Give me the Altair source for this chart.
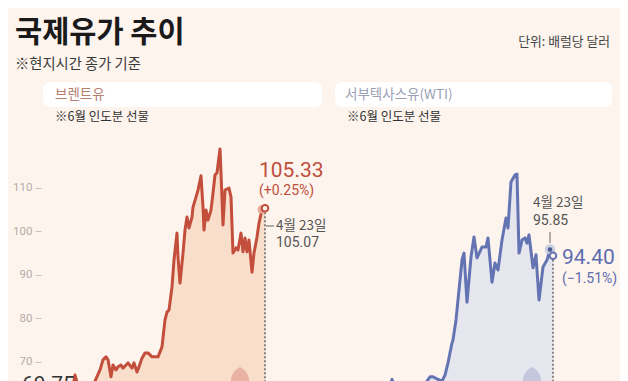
import altair as alt
import pandas as pd

# ---------------- data ----------------
brent_day = [0, 3, 7, 14, 23, 28, 31, 34, 36, 39,
             41, 44, 46, 49, 51, 54, 56, 60, 62, 65,
             67, 70, 73, 76, 80, 83, 86, 90, 93, 95,
             97, 100, 102, 105, 106, 108, 111, 113, 115, 117,
             120, 121, 124, 126, 129, 131, 132, 134, 136, 139,
             141, 143, 145, 148, 149, 151, 153, 157, 159, 161,
             164, 166, 169, 171, 173, 175, 177, 180, 182, 185,
             187, 190, 193]
brent_price = [63.0, 66.9, 63.5, 63.0, 65.5, 68.1, 70.4, 71.1, 70.4, 66.5,
               69.2, 68.1, 68.8, 69.2, 68.5, 69.2, 69.7, 68.5, 69.7, 67.6,
               68.8, 70.8, 72.0, 72.0, 71.1, 71.1, 71.1, 73.4, 79.6, 81.4,
               81.9, 87.2, 93.4, 99.6, 94.1, 88.1, 95.0, 100.3, 103.3, 100.8,
               103.3, 105.6, 107.9, 109.5, 112.8, 105.6, 100.3, 104.9, 102.6, 104.9,
               108.8, 113.0, 113.5, 119.0, 113.5, 101.5, 109.5, 110.0, 107.9, 95.0,
               96.2, 95.7, 99.6, 95.3, 98.5, 95.3, 98.0, 90.6, 95.0, 98.7,
               101.9, 105.07, 105.33]

wti_day = [0, 4, 9, 32, 39, 42, 45, 49, 54, 57,
           60, 64, 65, 68, 70, 74, 76, 79, 83, 86,
           89, 94, 98, 100, 104, 107, 110, 114, 118, 120,
           123, 127, 129, 131, 134, 137, 139, 141, 145, 148,
           151, 155, 159, 162, 165]
wti_price = [63.0, 65.9, 63.0, 63.0, 65.5, 66.5, 66.5, 66.0, 65.5, 66.9,
             69.7, 74.3, 75.0, 79.6, 84.2, 93.4, 95.0, 83.7, 94.1, 98.7,
             93.9, 96.4, 96.4, 98.5, 88.3, 92.7, 91.1, 98.0, 103.1, 100.8,
             111.4, 113.0, 113.2, 95.0, 98.0, 98.5, 97.3, 99.2, 91.6, 94.6,
             84.2, 91.8, 93.4, 95.85, 94.40]

y_ticks = [70, 80, 90, 100, 110]
pin_day = {"brent": 168, "wti": 144}

BG = "#FDF4EE"
KR = "Noto Sans CJK KR"
NUM = "Roboto"
Y_DOMAIN = [65.53, 151.47]
H = 373
PIN = "M0,-1C0.42,-0.78 0.62,-0.42 0.62,0.05C0.62,0.45 0.35,0.7 0,0.7C-0.35,0.7 -0.62,0.45 -0.62,0.05C-0.62,-0.42 -0.42,-0.78 0,-1Z"


def txt(text, x, y, size, color, font=KR, align="left", weight="normal", baseline="middle"):
    return alt.Chart(pd.DataFrame({"t": [text]})).mark_text(
        align=align, baseline=baseline, fontSize=size, color=color, font=font,
        fontWeight=weight,
    ).encode(x=alt.value(x), y=alt.value(y), text="t:N")


def box(x1, x2, y1, y2):
    return alt.Chart(pd.DataFrame({"a": [0]})).mark_rect(
        color="white", cornerRadius=7
    ).encode(x=alt.value(x1), x2=alt.value(x2), y=alt.value(y1), y2=alt.value(y2))


def panel(day, price, x_domain, line_color, area_color, halo_color, pin_color, pin_x, show_axis):
    df = pd.DataFrame({"day": day, "price": price})
    x = alt.X("day:Q", scale=alt.Scale(domain=x_domain, nice=False, zero=False), axis=None)
    if show_axis:
        ax = alt.Axis(values=y_ticks, orient="left", offset=-33, domain=False, grid=False,
                      ticks=True, tickSize=6, tickColor="#CBC2BD", tickWidth=1,
                      labelColor="#B5ACA7", labelFontSize=11.5, labelFont=NUM,
                      labelPadding=3, title=None)
    else:
        ax = None
    y = alt.Y("price:Q", scale=alt.Scale(domain=Y_DOMAIN, nice=False, zero=False), axis=ax)
    base = alt.Chart(df)
    area = base.mark_area(color=area_color, clip=True).encode(x=x, y=y, y2=alt.datum(50))
    line = base.mark_line(color=line_color, strokeWidth=3, clip=True,
                          strokeJoin="round").encode(x=x, y=y)
    last = pd.DataFrame({"day": [day[-1]], "price": [price[-1]]})
    ref = pd.DataFrame({"day": [day[-2]], "price": [price[-2]]})
    rule = alt.Chart(last).mark_rule(color="#6E6A68", strokeWidth=1.6, strokeDash=[2, 2],
                                     clip=True).encode(x=x, y=y, y2=alt.datum(50))
    halo = alt.Chart(ref).mark_point(filled=True, size=80 if show_axis else 110,
                                     color=halo_color, opacity=0.9).encode(x=x, y=y)
    endpt = alt.Chart(last).mark_point(filled=True, size=42, fill=BG, stroke=line_color,
                                       strokeWidth=2, opacity=1).encode(x=x, y=y)
    pin = alt.Chart(pd.DataFrame({"day": [pin_x]})).mark_point(
        shape=PIN, filled=True, size=900, color=pin_color, opacity=1, clip=True,
    ).encode(x=x, y=alt.value(374))
    layers = [area, pin, line, rule, halo, endpt]
    if not show_axis:
        dot = alt.Chart(ref).mark_point(filled=True, size=20, color="#4A5896",
                                        opacity=1).encode(x=x, y=y)
        layers.append(dot)
    return layers


left_layers = panel(brent_day, brent_price, [-64, 246], "#C24E3B", "#F9DECB", "#E9A395",
                    "#EBB3A4", pin_day["brent"], True)
left_layers += [
    txt("국제유가 추이", 7, 25, 29.5, "#1A1A1A", weight="bold"),
    txt("※현지시간 종가 기준", 7, 57, 14.3, "#3A3A3A"),
    box(35, 314, 74, 99),
    txt("브렌트유", 47, 87, 13.5, "#B5806F"),
    txt("※6월 인도분 선물", 47, 109, 12.5, "#333333"),
    txt("105.33", 251, 163, 21, "#BF4E3C", font=NUM),
    txt("(+0.25%)", 251, 183, 14, "#BF4E3C", font=NUM),
    alt.Chart(pd.DataFrame({"a": [0]})).mark_rule(color="#666666", strokeWidth=1).encode(
        x=alt.value(258), x2=alt.value(266), y=alt.value(218)),
    txt("4월 23일", 268, 218, 13.5, "#555555"),
    txt("105.07", 268, 235, 14, "#555555", font=NUM),
    txt("69.75", 14, 366, 21, "#333333", font=NUM, baseline="top"),
]

right_layers = panel(wti_day, wti_price, [-70, 232], "#6474B3", "#E6E6EE", "#C5C9DF",
                     "#C4C7DD", pin_day["wti"], False)
right_layers += [
    txt("단위: 배럴당 달러", 292, 34, 12.8, "#444444", align="right"),
    box(17, 294, 74, 99),
    txt("서부텍사스유(WTI)", 27, 87, 13.5, "#9AA0B5"),
    txt("※6월 인도분 선물", 29, 109, 12.5, "#333333"),
    txt("4월 23일", 215, 195, 13.5, "#555555"),
    txt("95.85", 215, 213, 14, "#555555", font=NUM),
    alt.Chart(pd.DataFrame({"a": [0]})).mark_rule(color="#666666", strokeWidth=1).encode(
        x=alt.value(232), y=alt.value(224), y2=alt.value(235)),
    txt("94.40", 244, 250, 21, "#5E6DAE", font=NUM),
    txt("(−1.51%)", 244, 271, 14, "#5E6DAE", font=NUM),
]

left = alt.layer(*left_layers).properties(width=310, height=H)
right = alt.layer(*right_layers).properties(width=302, height=H)

chart = alt.hconcat(left, right, spacing=0, bounds="flush").resolve_scale(
    x="independent", y="independent"
).properties(padding=0, background=BG).configure_view(stroke=None, strokeWidth=0)

chart.save("out.html", embed_options={"renderer": "svg", "actions": False})
